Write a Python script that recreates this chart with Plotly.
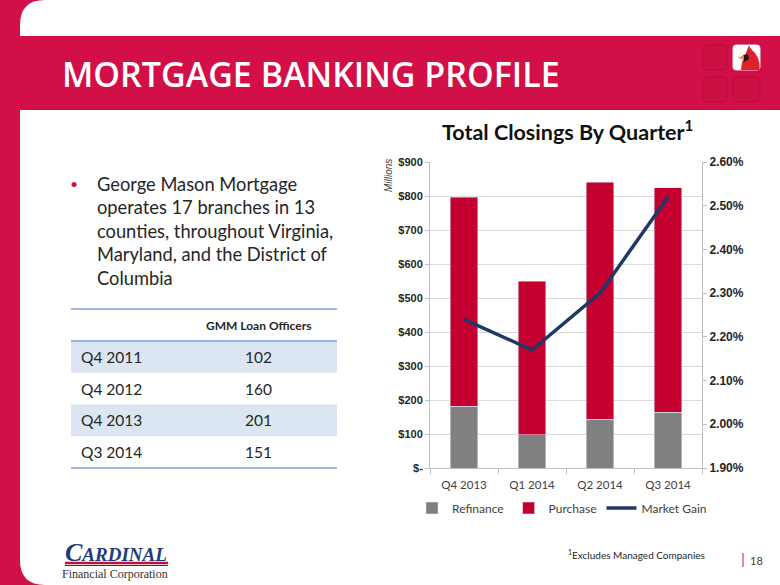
import plotly.graph_objects as go

W, H = 780, 585

# ---- data ----
quarters = ["Q4 2013", "Q1 2014", "Q2 2014", "Q3 2014"]
refinance = [182, 98, 143, 164]
purchase = [614, 452, 698, 661]
market_gain = [2.24, 2.17, 2.30, 2.52]

left_ticks = [0, 100, 200, 300, 400, 500, 600, 700, 800, 900]
left_ticktext = ["$-", "$100", "$200", "$300", "$400", "$500", "$600", "$700", "$800", "$900"]
right_ticks = [1.9, 2.0, 2.1, 2.2, 2.3, 2.4, 2.5, 2.6]
right_ticktext = ["1.90%", "2.00%", "2.10%", "2.20%", "2.30%", "2.40%", "2.50%", "2.60%"]

bullet_lines = ["George Mason Mortgage", "operates 17 branches in 13",
                "counties, throughout Virginia,", "Maryland, and the District of", "Columbia"]

table_header = "GMM Loan Officers"
table_quarters = ["Q4 2011", "Q4 2012", "Q4 2013", "Q3 2014"]
table_officers = [102, 160, 201, 151]

RED = "#D20F46"
BAR_RED = "#C3002F"
GRAY = "#808080"
NAVY = "#1F3864"


def px(x):
    return x / W


def py(y):
    return 1 - y / H


def poly(points):
    s = "M " + " L ".join(f"{px(x)},{py(y)}" for x, y in points) + " Z"
    return s


fig = go.Figure()
fig.add_trace(go.Bar(x=quarters, y=refinance, name="Refinance", marker_color=GRAY, yaxis="y"))
fig.add_trace(go.Bar(x=quarters, y=purchase, name="Purchase", marker_color=BAR_RED, yaxis="y"))
fig.add_trace(go.Scatter(x=quarters, y=market_gain, name="Market Gain", mode="lines",
                         line=dict(color=NAVY, width=3.5), yaxis="y2"))

shapes = []
# white rounded slide body
r = 25
path = (f"M {px(20)},{py(r)} L {px(20)},{py(H - r)} "
        f"Q {px(20)},{py(H)} {px(20 + r)},{py(H)} L 1.01,{py(H)} L 1.01,{py(0)} "
        f"L {px(20 + r)},{py(0)} Q {px(20)},{py(0)} {px(20)},{py(r)} Z")
shapes.append(dict(type="path", xref="paper", yref="paper", path=path,
                   fillcolor="white", line=dict(width=0), layer="below"))
# header band
shapes.append(dict(type="rect", xref="paper", yref="paper", x0=0, x1=1, y0=py(110), y1=py(36),
                   fillcolor=RED, line=dict(width=0), layer="below"))


# icon squares
def rrect(x0, y0, x1, y1, rr, fill, line):
    p = (f"M {px(x0 + rr)},{py(y0)} L {px(x1 - rr)},{py(y0)} Q {px(x1)},{py(y0)} {px(x1)},{py(y0 + rr)} "
         f"L {px(x1)},{py(y1 - rr)} Q {px(x1)},{py(y1)} {px(x1 - rr)},{py(y1)} "
         f"L {px(x0 + rr)},{py(y1)} Q {px(x0)},{py(y1)} {px(x0)},{py(y1 - rr)} "
         f"L {px(x0)},{py(y0 + rr)} Q {px(x0)},{py(y0)} {px(x0 + rr)},{py(y0)} Z")
    return dict(type="path", xref="paper", yref="paper", path=p, fillcolor=fill,
                line=dict(color=line, width=1), layer="below")


shapes.append(rrect(703, 45, 727, 70, 4, "#CC1044", "#B50C3B"))
shapes.append(rrect(703, 77, 727, 102, 4, "#CC1044", "#B50C3B"))
shapes.append(rrect(733, 77, 760, 102, 4, "#CC1044", "#B50C3B"))
shapes.append(rrect(733, 45, 760, 70, 3, "white", "#E8E8E8"))
bird = [(741, 70), (742, 62), (745, 56), (747, 50), (749, 45.5), (751, 49), (755, 53),
        (758, 58), (759.5, 64), (759.5, 70)]
shapes.append(dict(type="path", xref="paper", yref="paper", path=poly(bird), fillcolor="#E0202A",
                   line=dict(width=0), layer="below"))
shapes.append(dict(type="path", xref="paper", yref="paper",
                   path=poly([(743, 55), (748, 54), (749, 59), (744, 62)]), fillcolor="#1A1A1A",
                   line=dict(width=0), layer="below"))
shapes.append(dict(type="path", xref="paper", yref="paper",
                   path=poly([(738, 57.5), (744, 55.5), (744, 60)]), fillcolor="#F08A24",
                   line=dict(width=0), layer="below"))

# table lines and stripes
row_h = 31.75
top_line, head_line = 309, 341
shapes.append(dict(type="line", xref="paper", yref="paper", x0=px(71), x1=px(337), y0=py(top_line), y1=py(top_line),
                   line=dict(color="#7A9FCF", width=1.5)))
for i, q in enumerate(table_quarters):
    y0 = head_line + i * row_h
    if i % 2 == 0:
        shapes.append(dict(type="rect", xref="paper", yref="paper", x0=px(71), x1=px(337),
                           y0=py(y0 + row_h), y1=py(y0), fillcolor="#DCE6F2", line=dict(width=0), layer="below"))
shapes.append(dict(type="line", xref="paper", yref="paper", x0=px(71), x1=px(337), y0=py(head_line), y1=py(head_line),
                   line=dict(color="#7A9FCF", width=1.5)))
bottom = head_line + len(table_quarters) * row_h
shapes.append(dict(type="line", xref="paper", yref="paper", x0=px(71), x1=px(337), y0=py(bottom), y1=py(bottom),
                   line=dict(color="#7A9FCF", width=1.5)))

# logo lines
shapes.append(dict(type="line", xref="paper", yref="paper", x0=px(65), x1=px(168), y0=py(563), y1=py(563),
                   line=dict(color="#C8102E", width=2.5)))
shapes.append(dict(type="line", xref="paper", yref="paper", x0=px(65), x1=px(168), y0=py(565.5), y1=py(565.5),
                   line=dict(color="#1F3A7A", width=1)))
# page number bar
shapes.append(dict(type="line", xref="paper", yref="paper", x0=px(743), x1=px(743), y0=py(553), y1=py(567),
                   line=dict(color=RED, width=1)))

ann = []
TXT = "Lato"
ann.append(dict(text="MORTGAGE BANKING PROFILE", x=px(60), y=py(74), xanchor="left", yanchor="middle",
                showarrow=False, xref="paper", yref="paper",
                font=dict(family="Open Sans", size=34, color="white", weight=600)))
ann.append(dict(text="<b>Total Closings By Quarter<sup>1</sup></b>", x=px(567), y=py(130), xanchor="center",
                yanchor="middle", showarrow=False, xref="paper", yref="paper",
                font=dict(family=TXT, size=21.5, color="#111111")))
ann.append(dict(text="<i>Millions</i>", x=px(388), y=py(176), textangle=-90, xanchor="center", yanchor="middle",
                showarrow=False, xref="paper", yref="paper",
                font=dict(family="Liberation Sans", size=10, color="#404040")))
# bullet
ann.append(dict(text="•", x=px(74), y=py(183), xanchor="center", yanchor="middle", showarrow=False,
                xref="paper", yref="paper", font=dict(family=TXT, size=14, color=RED)))
for i, line in enumerate(bullet_lines):
    ann.append(dict(text=line, x=px(95), y=py(184 + i * 23.4), xanchor="left", yanchor="middle",
                    showarrow=False, xref="paper", yref="paper",
                    font=dict(family=TXT, size=18.3, color="#262626")))
# table text
ann.append(dict(text="<b>" + table_header + "</b>", x=px(258), y=py(325), xanchor="center", yanchor="middle",
                showarrow=False, xref="paper", yref="paper", font=dict(family=TXT, size=12, color="#262626")))
for i, (q, v) in enumerate(zip(table_quarters, table_officers)):
    yc = head_line + i * row_h + row_h / 2
    ann.append(dict(text=q, x=px(79), y=py(yc), xanchor="left", yanchor="middle", showarrow=False,
                    xref="paper", yref="paper", font=dict(family=TXT, size=15.5, color="#262626")))
    ann.append(dict(text=str(v), x=px(258), y=py(yc), xanchor="center", yanchor="middle", showarrow=False,
                    xref="paper", yref="paper", font=dict(family=TXT, size=15.5, color="#262626")))
# footnote
ann.append(dict(text="<sup>1</sup>Excludes Managed Companies", x=px(566), y=py(554), xanchor="left",
                yanchor="middle", showarrow=False, xref="paper", yref="paper",
                font=dict(family=TXT, size=10, color="#262626")))
ann.append(dict(text="18", x=px(748), y=py(560), xanchor="left", yanchor="middle", showarrow=False,
                xref="paper", yref="paper", font=dict(family=TXT, size=11, color="#404040")))
# logo text
ann.append(dict(text="<b><i><span style='font-size:26px'>C</span>ARDINAL</i></b>", x=px(116), y=py(552),
                xanchor="center", yanchor="middle", showarrow=False, xref="paper", yref="paper",
                font=dict(family="Liberation Serif", size=19, color="#1F3A7A")))
ann.append(dict(text="Financial Corporation", x=px(115), y=py(574), xanchor="center", yanchor="middle",
                showarrow=False, xref="paper", yref="paper",
                font=dict(family="Liberation Serif", size=12, color="#333333")))

fig.update_layout(
    width=W, height=H, margin=dict(l=0, r=0, t=0, b=0, pad=0, autoexpand=False),
    paper_bgcolor=RED, plot_bgcolor="rgba(0,0,0,0)",
    barmode="stack", bargap=0.6,
    shapes=shapes, annotations=ann,
    showlegend=True,
    legend=dict(orientation="h", x=px(562), xanchor="center", y=py(508), yanchor="middle",
                font=dict(family=TXT, size=12, color="#404040"), bgcolor="rgba(0,0,0,0)",
                traceorder="normal", itemwidth=30),
    xaxis=dict(domain=[px(430), px(702)], showline=True, linecolor="#BFBFBF", linewidth=1,
               ticks="outside", tickson="boundaries", ticklen=5, tickcolor="#BFBFBF", automargin=False,
               ticklabelstandoff=6,
               tickfont=dict(family=TXT, size=11.5, color="#404040"), showgrid=False, fixedrange=True),
    yaxis=dict(domain=[py(468), py(162)], range=[0, 900], tickvals=left_ticks, ticktext=left_ticktext,
               showline=True, linecolor="#BFBFBF", gridcolor="#D9D9D9", gridwidth=1, automargin=False,
               ticks="outside", ticklen=4, tickcolor="#BFBFBF", zeroline=False,
               tickfont=dict(family="Liberation Sans", size=11, color="#262626", weight="bold")),
    yaxis2=dict(overlaying="y", side="right", range=[1.9, 2.6], tickvals=right_ticks, ticktext=right_ticktext,
                showline=True, linecolor="#BFBFBF", showgrid=False, ticks="outside", ticklen=4,
                tickcolor="#BFBFBF", zeroline=False, automargin=False,
                tickfont=dict(family="Liberation Sans", size=12, color="#262626", weight="bold")),
)

fig.write_html("out.html", config={"displayModeBar": False},
               post_script="document.body.style.margin='0';document.body.style.overflow='hidden';")
